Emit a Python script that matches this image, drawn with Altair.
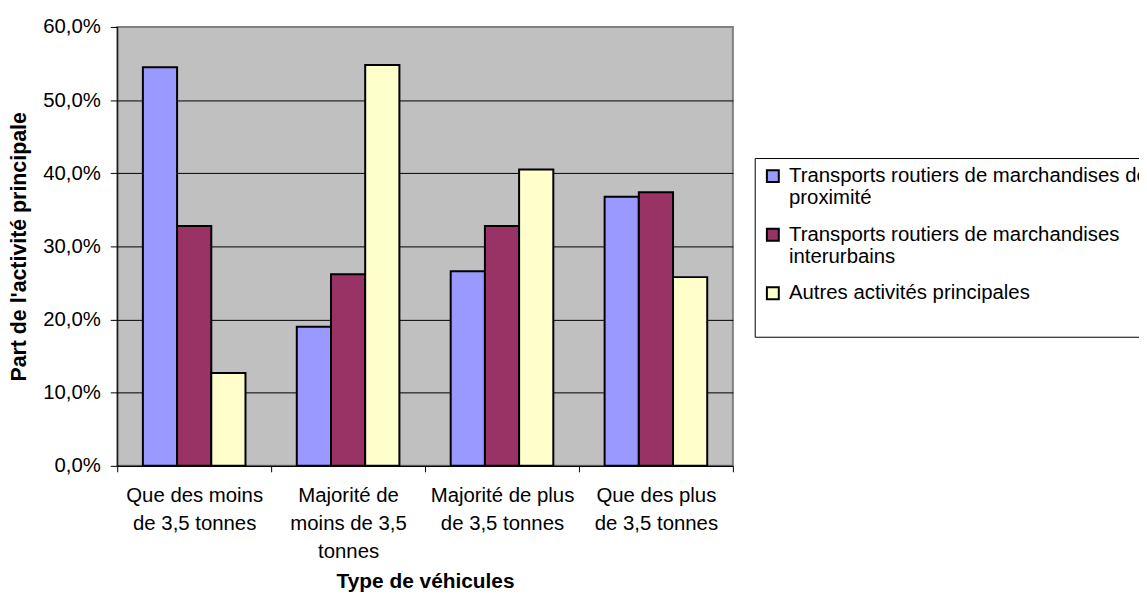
import altair as alt
import pandas as pd

categories = [
    "Que des moins|de 3,5 tonnes",
    "Majorité de|moins de 3,5|tonnes",
    "Majorité de plus|de 3,5 tonnes",
    "Que des plus|de 3,5 tonnes",
]
series = [
    "Transports routiers de marchandises de|proximité",
    "Transports routiers de marchandises|interurbains",
    "Autres activités principales",
]
proximite = [54.5, 19.0, 26.6, 36.8]
interurbains = [32.8, 26.2, 32.8, 37.4]
autres = [12.7, 54.8, 40.5, 25.8]
colors = ["#9999FF", "#993366", "#FFFFCC"]
y_ticks = [0, 10, 20, 30, 40, 50, 60]

rows = []
for s, vals in zip(series, [proximite, interurbains, autres]):
    for c, v in zip(categories, vals):
        rows.append({"cat": c, "serie": s, "val": v})
df = pd.DataFrame(rows)

FONT = "Liberation Sans"

chart = alt.Chart(df).mark_bar(stroke="black", strokeWidth=2).encode(
    x=alt.X(
        "cat:N",
        sort=categories,
        scale=alt.Scale(paddingInner=0, paddingOuter=0),
        axis=alt.Axis(
            title="Type de véhicules",
            labelAngle=0,
            tickBand="extent",
            labelExpr="split(datum.label, '|')",
            labelLineHeight=28,
            labelFontSize=20.5,
            labelFont=FONT,
            labelColor="black",
            labelPadding=14,
            labelBaseline="top",
            tickSize=6,
            tickColor="black",
            domainColor="black",
            grid=False,
            titleFont=FONT,
            titleFontSize=21,
            titleFontWeight="bold",
            titleColor="black",
            titlePadding=9,
        ),
    ),
    xOffset=alt.XOffset(
        "serie:N", sort=series, scale=alt.Scale(paddingInner=0, paddingOuter=0.75)
    ),
    y=alt.Y(
        "val:Q",
        scale=alt.Scale(domain=[0, 60], nice=False),
        axis=alt.Axis(
            values=y_ticks,
            labelExpr="replace(format(datum.value, '.1f'), '.', ',') + '%'",
            labelFont=FONT,
            labelFontSize=20.5,
            labelColor="black",
            labelPadding=10,
            tickSize=7,
            tickColor="black",
            domainColor="black",
            gridColor={"condition": {"test": "datum.value == 60", "value": "#808080"}, "value": "black"},
            gridWidth=1,
            title="Part de l'activité principale",
            titleFont=FONT,
            titleFontSize=21.5,
            titleFontWeight="bold",
            titleColor="black",
            titlePadding=12,
        ),
    ),
    color=alt.Color(
        "serie:N",
        sort=series,
        scale=alt.Scale(domain=series, range=colors),
        legend=alt.Legend(
            title=" ",
            titleOrient="bottom",
            titleFontSize=20,
            orient="none",
            legendX=642,
            legendY=132,
            strokeColor="black",
            fillColor="white",
            padding=8,
            symbolType="square",
            symbolSize=144,
            symbolStrokeColor="black",
            symbolStrokeWidth=2,
            symbolOpacity=1,
            labelFont=FONT,
            labelFontSize=20.5,
            labelColor="black",
            labelLimit=2000,
            labelExpr="split(datum.label, '|')",
            labelOffset=6,
            rowPadding=15,
        ),
    ),
).properties(
    width=620,
    height=442,
    padding={"left": 110, "top": 17, "right": 409, "bottom": 130},
    autosize=alt.AutoSizeParams(type="none"),
).configure_view(
    fill="#C0C0C0", stroke="#808080", strokeWidth=2
)

chart.save("out.html", embed_options={"renderer": "svg", "actions": False})
